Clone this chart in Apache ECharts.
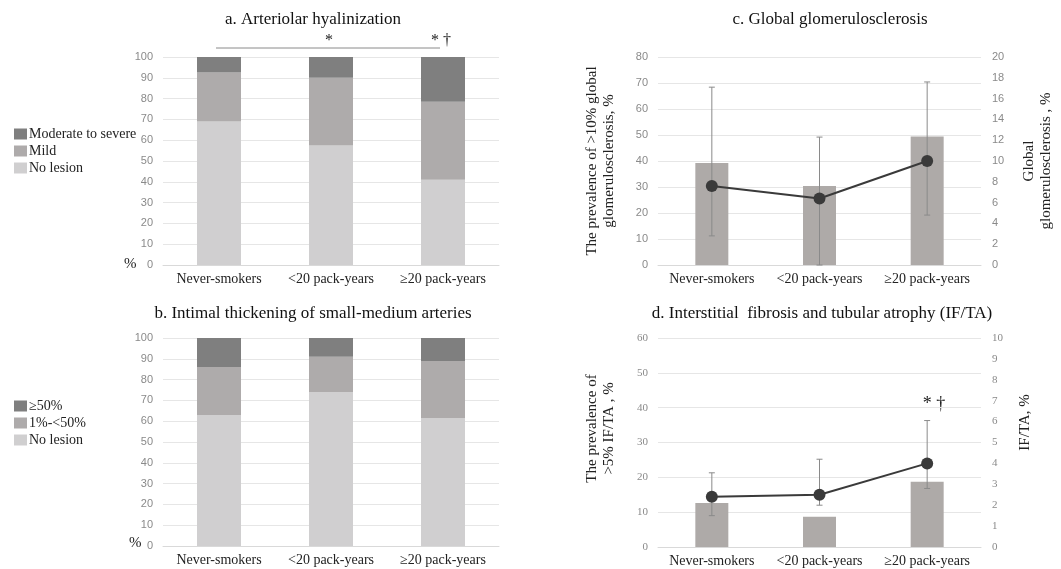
<!DOCTYPE html>
<html>
<head>
<meta charset="utf-8">
<script src="https://cdn.jsdelivr.net/npm/echarts@6/dist/echarts.min.js"></script>
<style>html,body{margin:0;padding:0;background:#fff}#chart{width:1061px;height:569px}</style>
</head>
<body>
<div id="chart"></div>
<script>
// ---- data ----
const categories = ['Never-smokers', '<20 pack-years', '≥20 pack-years'];
// a. Arteriolar hyalinization (%)
const aNoLesion = [69, 57.5, 41];
const aMild = [23.5, 32.5, 37.5];
const aModerate = [7.5, 10, 21.5];
// b. Intimal thickening (%)
const bNoLesion = [63, 74, 61.5];
const bMid = [23, 17, 27.5];
const bSevere = [14, 9, 11];
// c. Global glomerulosclerosis
const cPrevalence = [39.2, 30.4, 49.4];
const cGlobal = [7.6, 6.4, 10.0];
const cLow = [2.8, 0, 4.8];
const cHigh = [17.1, 12.3, 17.6];
// d. IF/TA
const dPrevalence = [12.6, 8.7, 18.7];
const dIFTA = [2.4, 2.5, 4.0];
const dLow = [1.5, 2.0, 2.8];
const dHigh = [3.55, 4.2, 6.05];

const serif = '"Liberation Serif", "DejaVu Serif", serif';
const sans = '"Liberation Sans", Arial, sans-serif';
const cLight = '#d0cfd0', cMid = '#aeabab', cDark = '#7f7f7f';
const barGrey = '#aeaaa8';

function errRender(params, api) {
  const x = api.value(0), lo = api.value(1), hi = api.value(2);
  const p1 = api.coord([x, hi]), p2 = api.coord([x, lo]);
  const w = 3;
  const st = {stroke: '#8a8a8a', lineWidth: 1};
  return {type: 'group', children: [
    {type: 'line', shape: {x1: p1[0], y1: p1[1], x2: p2[0], y2: p2[1]}, style: st},
    {type: 'line', shape: {x1: p1[0] - w, y1: p1[1], x2: p1[0] + w, y2: p1[1]}, style: st},
    {type: 'line', shape: {x1: p2[0] - w, y1: p2[1], x2: p2[0] + w, y2: p2[1]}, style: st}
  ]};
}
const errData = (lo, hi) => lo.map((v, i) => [i, v, hi[i]]);

const grids = [
  {left: 163, right: 562, top: 57, bottom: 304},
  {left: 163, right: 562, top: 338, bottom: 23},
  {left: 658, right: 80, top: 57, bottom: 304},
  {left: 658, right: 80, top: 338, bottom: 22}
];

function xAxis(gi) {
  return {
    type: 'category', gridIndex: gi, data: categories,
    axisLine: {show: true, lineStyle: {color: '#d9d9d9'}},
    axisTick: {show: false},
    axisLabel: {color: '#222', fontFamily: serif, fontSize: 14, margin: 7, interval: 0, hideOverlap: false}
  };
}
function yAxis(gi, max, interval, opts) {
  return Object.assign({
    type: 'value', gridIndex: gi, min: 0, max: max, interval: interval,
    axisLine: {show: false}, axisTick: {show: false},
    axisLabel: {color: '#8a8a8a', fontFamily: sans, fontSize: 11, margin: 10},
    splitLine: {show: true, lineStyle: {color: '#e6e6e6'}}
  }, opts || {});
}

const nameStyle = {color: '#222', fontFamily: serif, fontSize: 15, lineHeight: 17};

const option = {
  backgroundColor: '#fff',
  animation: false,
  grid: grids,
  legend: [
    {
      orient: 'vertical', left: 9, top: 122, itemWidth: 13, itemHeight: 11, itemGap: 3,
      icon: 'rect', data: ['Moderate to severe', 'Mild', 'No lesion'],
      textStyle: {color: '#222', fontFamily: serif, fontSize: 14, padding: [0, 0, 0, -3]},
      selectedMode: false
    },
    {
      orient: 'vertical', left: 9, top: 394, itemWidth: 13, itemHeight: 11, itemGap: 3,
      icon: 'rect', data: ['≥50%', '1%-<50%', 'No lesion '],
      textStyle: {color: '#222', fontFamily: serif, fontSize: 14, padding: [0, 0, 0, -3]},
      selectedMode: false
    }
  ],
  xAxis: [xAxis(0), xAxis(1), xAxis(2), xAxis(3)],
  yAxis: [
    yAxis(0, 100, 10),
    yAxis(1, 100, 10),
    yAxis(2, 80, 10, {
      name: 'The prevalence of >10% global\nglomerulosclerosis, %', nameLocation: 'middle', nameGap: 40,
      nameTextStyle: nameStyle
    }),
    yAxis(2, 20, 2, {
      position: 'right', splitLine: {show: false},
      axisLabel: {color: '#8a8a8a', fontFamily: sans, fontSize: 11, margin: 11},
      name: 'Global\nglomerulosclerosis , %', nameLocation: 'middle', nameGap: 40,
      nameTextStyle: nameStyle
    }),
    yAxis(3, 60, 10, {
      axisLabel: {color: '#8a8a8a', fontFamily: serif, fontSize: 11, margin: 10},
      name: 'The prevalence of\n>5% IF/TA , %', nameLocation: 'middle', nameGap: 40,
      nameTextStyle: Object.assign({}, nameStyle, {padding: [0, 0, 0, 28]})
    }),
    yAxis(3, 10, 1, {
      position: 'right', splitLine: {show: false},
      axisLabel: {color: '#8a8a8a', fontFamily: serif, fontSize: 11, margin: 11},
      name: 'IF/TA, %', nameLocation: 'middle', nameGap: 36,
      nameTextStyle: Object.assign({}, nameStyle, {padding: [0, 0, 0, 40]})
    })
  ],
  series: [
    {name: 'No lesion', type: 'bar', stack: 'a', xAxisIndex: 0, yAxisIndex: 0, barWidth: 44, data: aNoLesion, itemStyle: {color: cLight}},
    {name: 'Mild', type: 'bar', stack: 'a', xAxisIndex: 0, yAxisIndex: 0, barWidth: 44, data: aMild, itemStyle: {color: cMid}},
    {name: 'Moderate to severe', type: 'bar', stack: 'a', xAxisIndex: 0, yAxisIndex: 0, barWidth: 44, data: aModerate, itemStyle: {color: cDark}},

    {name: 'No lesion ', type: 'bar', stack: 'b', xAxisIndex: 1, yAxisIndex: 1, barWidth: 44, data: bNoLesion, itemStyle: {color: cLight}},
    {name: '1%-<50%', type: 'bar', stack: 'b', xAxisIndex: 1, yAxisIndex: 1, barWidth: 44, data: bMid, itemStyle: {color: cMid}},
    {name: '≥50%', type: 'bar', stack: 'b', xAxisIndex: 1, yAxisIndex: 1, barWidth: 44, data: bSevere, itemStyle: {color: cDark}},

    {name: 'c-prev', type: 'bar', xAxisIndex: 2, yAxisIndex: 2, barWidth: 33, data: cPrevalence, itemStyle: {color: barGrey}, z: 1},
    {name: 'c-err', type: 'custom', xAxisIndex: 2, yAxisIndex: 3, data: errData(cLow, cHigh), renderItem: errRender, encode: {x: 0, y: [1, 2]}, z: 3},
    {name: 'c-line', type: 'line', xAxisIndex: 2, yAxisIndex: 3, data: cGlobal, symbol: 'circle', symbolSize: 12,
      lineStyle: {color: '#3a3a3a', width: 2}, itemStyle: {color: '#3a3a3a'}, z: 5},

    {name: 'd-prev', type: 'bar', xAxisIndex: 3, yAxisIndex: 4, barWidth: 33, data: dPrevalence, itemStyle: {color: barGrey}, z: 1},
    {name: 'd-err', type: 'custom', xAxisIndex: 3, yAxisIndex: 5, data: errData(dLow, dHigh), renderItem: errRender, encode: {x: 0, y: [1, 2]}, z: 3},
    {name: 'd-line', type: 'line', xAxisIndex: 3, yAxisIndex: 5, data: dIFTA, symbol: 'circle', symbolSize: 12,
      lineStyle: {color: '#3a3a3a', width: 2}, itemStyle: {color: '#3a3a3a'}, z: 5}
  ],
  graphic: [
    {type: 'text', x: 313, y: 11, style: {text: 'a. Arteriolar hyalinization', font: '17px ' + serif, fill: '#111', align: 'center'}},
    {type: 'text', x: 313, y: 305, style: {text: 'b. Intimal thickening of small-medium arteries', font: '17px ' + serif, fill: '#111', align: 'center'}},
    {type: 'text', x: 830, y: 11, style: {text: 'c. Global glomerulosclerosis', font: '17px ' + serif, fill: '#111', align: 'center'}},
    {type: 'text', x: 822, y: 305, style: {text: 'd. Interstitial  fibrosis and tubular atrophy (IF/TA)', font: '17px ' + serif, fill: '#111', align: 'center'}},
    {type: 'line', shape: {x1: 216, y1: 48, x2: 440, y2: 48}, style: {stroke: '#8a8a8a', lineWidth: 1}},
    {type: 'text', x: 329, y: 33, style: {text: '*', font: '16px ' + serif, fill: '#222', align: 'center'}},
    {type: 'text', x: 441, y: 33, style: {text: '* †', font: '16px ' + serif, fill: '#222', align: 'center'}},
    {type: 'text', x: 934, y: 395, style: {text: '* †', font: '18px ' + serif, fill: '#222', align: 'center'}},
    {type: 'text', x: 124, y: 257, style: {text: '%', font: '15px ' + serif, fill: '#222'}},
    {type: 'text', x: 129, y: 536, style: {text: '%', font: '15px ' + serif, fill: '#222'}}
  ]
};

const chart = echarts.init(document.getElementById('chart'), null, {renderer: 'canvas'});
chart.setOption(option);
</script>
</body>
</html>
